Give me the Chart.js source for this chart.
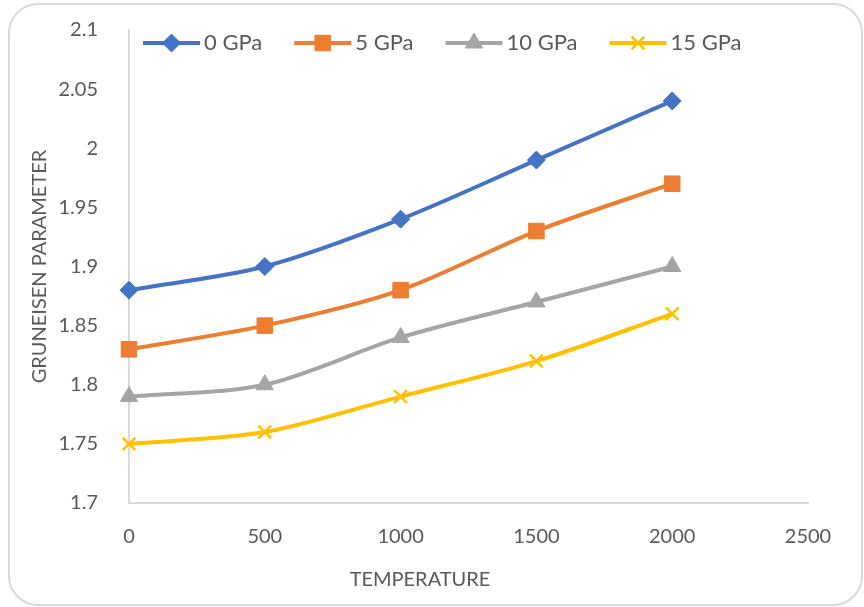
<!DOCTYPE html>
<html>
<head>
<meta charset="utf-8">
<script src="https://cdn.jsdelivr.net/npm/chart.js@4"></script>
<style>
  html, body { margin: 0; padding: 0; background: #fff; }
  #wrap { position: relative; width: 864px; height: 607px; }
  #frame {
    position: absolute; left: 8px; top: 3px; width: 851px; height: 599px;
    border: 2px solid #d9d9d9; border-radius: 30px; pointer-events: none;
  }
  canvas { position: absolute; left: 0; top: 0; }
</style>
</head>
<body>
<div id="wrap">
  <div id="frame"></div>
  <canvas id="myChart" width="864" height="607"></canvas>
</div>
<script>
// temperatures (x values)
const temperature = [0, 500, 1000, 1500, 2000];

// gruneisen parameter per pressure
const gpa0 = [1.88, 1.90, 1.94, 1.99, 2.04];
const gpa5 = [1.83, 1.85, 1.88, 1.93, 1.97];
const gpa10 = [1.79, 1.80, 1.84, 1.87, 1.90];
const gpa15 = [1.75, 1.76, 1.79, 1.82, 1.86];

const seriesLabels = ['0 GPa', '5 GPa', '10 GPa', '15 GPa'];

const FONT = 'Lato, "Open Sans", sans-serif';
const TEXT = '#595959';

const toPoints = (vals) => temperature.map((t, i) => ({x: t, y: vals[i]}));

const makeSet = (label, vals, color, style, radius, borderW) => ({
  label: label,
  data: toPoints(vals),
  borderColor: color,
  backgroundColor: color,
  pointBorderColor: color,
  pointBackgroundColor: color,
  pointStyle: style,
  pointRadius: radius,
  pointHoverRadius: radius,
  pointBorderWidth: borderW,
  borderWidth: 4,
  tension: 0.3,
  clip: false
});

// legend drawn inside the plot area, line + marker like excel
const legendInside = {
  id: 'legendInside',
  afterDatasetsDraw(chart) {
    const ctx = chart.ctx;
    let x = 143;
    const y = 43;
    ctx.save();
    ctx.font = '22px ' + FONT;
    ctx.textBaseline = 'middle';
    chart.data.datasets.forEach((ds) => {
      ctx.strokeStyle = ds.borderColor;
      ctx.lineWidth = 4;
      ctx.beginPath();
      ctx.moveTo(x, y);
      ctx.lineTo(x + 57, y);
      ctx.stroke();
      ctx.fillStyle = ds.backgroundColor;
      ctx.lineWidth = ds.pointBorderWidth;
      Chart.helpers.drawPoint(ctx, {pointStyle: ds.pointStyle, radius: ds.pointRadius, borderWidth: ds.pointBorderWidth}, x + 28.5, y);
      ctx.fillStyle = TEXT;
      ctx.fillText(ds.label, x + 61, y);
      x += 61 + ctx.measureText(ds.label).width + 32;
    });
    ctx.restore();
  }
};

// x axis title, placed like the original
const xTitle = {
  id: 'xTitle',
  afterDraw(chart) {
    const ctx = chart.ctx;
    ctx.save();
    ctx.font = '20px ' + FONT;
    ctx.fillStyle = TEXT;
    ctx.textAlign = 'center';
    ctx.textBaseline = 'middle';
    ctx.fillText('TEMPERATURE', 420, 580);
    ctx.restore();
  }
};

// hidden tick marks only used to push labels away from the axis
const hiddenTicks = (len) => ({
  display: true,
  drawOnChartArea: false,
  drawTicks: true,
  tickLength: len,
  tickColor: 'rgba(0,0,0,0)',
  color: 'rgba(0,0,0,0)'
});

new Chart(document.getElementById('myChart'), {
  type: 'line',
  data: {
    datasets: [
      makeSet(seriesLabels[0], gpa0, '#4472C4', 'rectRot', 9, 1),
      makeSet(seriesLabels[1], gpa5, '#ED7D31', 'rect', 11, 1),
      makeSet(seriesLabels[2], gpa10, '#A5A5A5', 'triangle', 10, 1),
      makeSet(seriesLabels[3], gpa15, '#FFC000', 'crossRot', 9, 2.5)
    ]
  },
  options: {
    responsive: false,
    animation: false,
    events: [],
    layout: { padding: { left: 8, right: 56, top: 30, bottom: 0 } },
    plugins: {
      legend: { display: false },
      tooltip: { enabled: false }
    },
    scales: {
      x: {
        type: 'linear',
        min: 0,
        max: 2500,
        grid: hiddenTicks(20),
        border: { display: true, color: '#d9d9d9', width: 2 },
        ticks: {
          stepSize: 500,
          padding: 2,
          color: TEXT,
          font: { family: FONT, size: 20 },
          callback: (v) => String(v)
        },
        afterFit(scale) { scale.height = 104; }
      },
      y: {
        min: 1.7,
        max: 2.1,
        grid: hiddenTicks(29),
        border: { display: true, color: '#d9d9d9', width: 2 },
        ticks: {
          stepSize: 0.05,
          padding: 2,
          color: TEXT,
          font: { family: FONT, size: 20 },
          callback: (v) => String(+v.toFixed(2))
        },
        title: {
          display: true,
          text: 'GRUNEISEN PARAMETER',
          color: TEXT,
          font: { family: FONT, size: 20 },
          padding: { top: 20, bottom: 0 }
        },
        afterFit(scale) { scale.width = 121; }
      }
    }
  },
  plugins: [legendInside, xTitle]
});
</script>
</body>
</html>
